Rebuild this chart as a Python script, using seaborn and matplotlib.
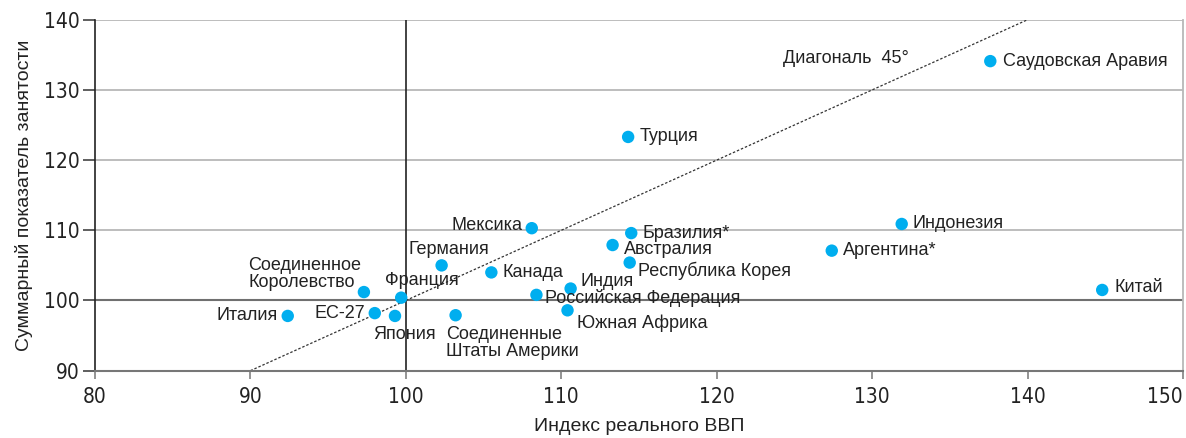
import matplotlib
matplotlib.use("Agg")
import matplotlib.pyplot as plt
import seaborn as sns
import pandas as pd

countries = ["Италия", "Соединенное\nКоролевство", "ЕС-27", "Япония", "Франция",
             "Германия", "Соединенные\nШтаты Америки", "Канада", "Российская Федерация",
             "Индия", "Южная Африка", "Мексика", "Бразилия*", "Австралия",
             "Республика Корея", "Турция", "Саудовская Аравия", "Индонезия",
             "Аргентина*", "Китай"]
gdp_index = [92.4, 97.3, 98.0, 99.3, 99.7,
             102.3, 103.2, 105.5, 108.4,
             110.6, 110.4, 108.1, 114.5, 113.3,
             114.4, 114.3, 137.6, 131.9,
             127.4, 144.8]
employment_index = [97.8, 101.2, 98.2, 97.8, 100.4,
                    105.0, 97.9, 104.0, 100.8,
                    101.7, 98.6, 110.3, 109.6, 107.9,
                    105.4, 123.3, 134.1, 110.9,
                    107.1, 101.5]
x_ticks = [80, 90, 100, 110, 120, 130, 140, 150]
y_ticks = [90, 100, 110, 120, 130, 140]
diag = [90, 140]

# label placement (offset in points, alignment)
label_style = {
    "Италия": ((-7, 0), "right", "center"),
    "Соединенное\nКоролевство": ((-2, 1), "right", "bottom"),
    "ЕС-27": ((-7, 0), "right", "center"),
    "Япония": ((-16, -7), "left", "top"),
    "Франция": ((-12, 6), "left", "bottom"),
    "Германия": ((-24, 5), "left", "bottom"),
    "Соединенные\nШтаты Америки": ((-7, -8), "left", "top"),
    "Канада": ((8, 0), "left", "center"),
    "Российская Федерация": ((6, -2), "left", "center"),
    "Индия": ((7, 5), "left", "center"),
    "Южная Африка": ((7, -9), "left", "center"),
    "Мексика": ((-7, 2), "right", "center"),
    "Бразилия*": ((8, 0), "left", "center"),
    "Австралия": ((8, -3), "left", "center"),
    "Республика Корея": ((6, -6), "left", "center"),
    "Турция": ((8, 0), "left", "center"),
    "Саудовская Аравия": ((9, 0), "left", "center"),
    "Индонезия": ((8, 0), "left", "center"),
    "Аргентина*": ((8, 0), "left", "center"),
    "Китай": ((9, 2), "left", "center"),
}

sns.set_theme(style="white")
plt.rcParams["font.family"] = ["Liberation Sans", "DejaVu Sans"]

df = pd.DataFrame({"country": countries, "gdp": gdp_index, "emp": employment_index})

fig = plt.figure(figsize=(11.86, 4.38), dpi=100)
ax = fig.add_axes([0.0801, 0.1537, 0.9174, 0.8013])

for y in y_ticks[2:]:
    ax.axhline(y, color="#b8b8b8", lw=1.3, zorder=0)
ax.axhline(100, color="#707070", lw=1.5, zorder=1)
ax.axvline(100, color="#222222", lw=1.2, zorder=1)
ax.plot(diag, diag, ls=(0, (2, 1.5)), color="#333333", lw=0.9, zorder=1)

sns.scatterplot(data=df, x="gdp", y="emp", ax=ax, color="#00aeef", s=80,
                edgecolor="none", zorder=3, legend=False)

for name, gx, ey in zip(countries, gdp_index, employment_index):
    off, ha, va = label_style[name]
    ax.annotate(name, (gx, ey), xytext=off, textcoords="offset points",
                ha=ha, va=va, fontsize=13, color="#222222", multialignment="left",
                linespacing=1.0, zorder=4)

ax.text(128.3, 134.5, "Диагональ  45°", fontsize=13, color="#222222",
        ha="center", va="center")

tick_font = dict(family="DejaVu Sans", stretch="condensed", size=15)
ax.set_xlim(80, 150)
ax.set_ylim(90, 140)
ax.set_xticks(x_ticks)
ax.set_yticks(y_ticks)
ax.set_xticklabels([str(t) for t in x_ticks], fontdict=tick_font, color="#222222")
ax.set_yticklabels([str(t) for t in y_ticks], fontdict=tick_font, color="#222222")
ax.tick_params(axis="y", length=9, width=1.1, color="#333333", direction="out", pad=2, left=True)
ax.tick_params(axis="x", length=6, width=1.1, color="#777777", direction="out", pad=6, bottom=True)
for lab in ax.get_xticklabels():
    if lab.get_text() == "150":
        lab.set_horizontalalignment("right")

ax.spines["top"].set_visible(False)
ax.spines["left"].set_color("#222222")
ax.spines["left"].set_linewidth(1.2)
ax.spines["right"].set_color("#b8b8b8")
ax.spines["right"].set_linewidth(1.3)
ax.spines["bottom"].set_color("#777777")
ax.spines["bottom"].set_linewidth(1.5)

ax.set_xlabel("Индекс реального ВВП", fontsize=14, color="#222222", labelpad=8)
ax.set_ylabel("Суммарный показатель занятости", fontsize=14, color="#222222", labelpad=8)

fig.savefig("out.png", dpi=100)
